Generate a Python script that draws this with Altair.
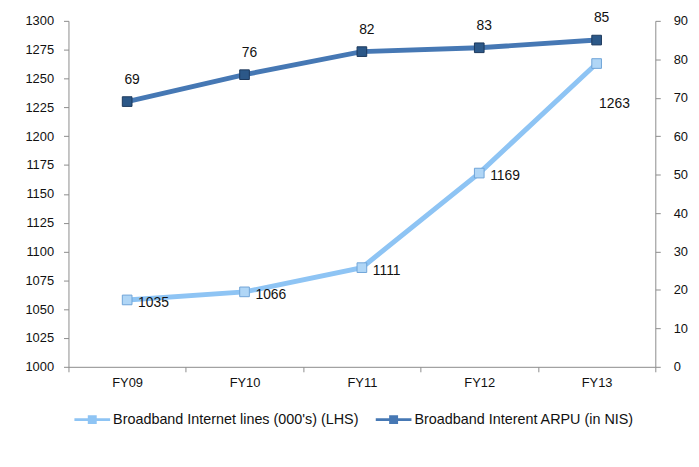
import altair as alt
import pandas as pd

years = ["FY09", "FY10", "FY11", "FY12", "FY13"]
# positions of the light-blue markers as drawn in the picture (LHS scale)
lines_plotted = [1058, 1065, 1086, 1168, 1263]
# data labels printed next to those markers
lines_labels = ["1035", "1066", "1111", "1169", "1263"]
arpu_nis = [69, 76, 82, 83, 85]
left_ticks = [1000, 1025, 1050, 1075, 1100, 1125, 1150, 1175, 1200, 1225, 1250, 1275, 1300]
right_ticks = [0, 10, 20, 30, 40, 50, 60, 70, 80, 90]
series_names = ["Broadband Internet lines (000's) (LHS)", "Broadband Interent ARPU (in NIS)"]
line_colors = ["#8EC4F4", "#4678B4"]
marker_fill = ["#B0D6F6", "#2C5888"]
marker_stroke = ["#6FA4D8", "#1C395C"]

FONT = "Liberation Sans"
AXIS_GREY = "#8C8C8C"
TXT = "#111111"

df_l = pd.DataFrame({"year": years, "value": lines_plotted, "label": lines_labels,
                     "series": series_names[0]})
df_r = pd.DataFrame({"year": years, "value": arpu_nis, "series": series_names[1]})

x_enc = alt.X(
    "year:N", sort=years,
    scale=alt.Scale(paddingInner=0, paddingOuter=0),
    axis=alt.Axis(title=None, labelAngle=0, tickBand="extent", domainColor=AXIS_GREY,
                  tickColor=AXIS_GREY, tickSize=5, labelPadding=5, labelFontSize=13,
                  labelColor=TXT, labelFont=FONT, grid=False),
)

y_left = alt.Y(
    "value:Q",
    scale=alt.Scale(domain=[1000, 1300], nice=False, zero=False),
    axis=alt.Axis(orient="left", values=left_ticks, format="d", title=None, grid=False,
                  domainColor=AXIS_GREY, tickColor=AXIS_GREY, tickSize=5, labelPadding=10,
                  labelFontSize=13, labelColor=TXT, labelFont=FONT),
)
y_right = alt.Y(
    "value:Q",
    scale=alt.Scale(domain=[0, 90], nice=False, zero=True),
    axis=alt.Axis(orient="right", values=right_ticks, format="d", title=None, grid=False,
                  domainColor=AXIS_GREY, tickColor=AXIS_GREY, tickSize=5, labelPadding=13,
                  labelFontSize=13, labelColor=TXT, labelFont=FONT),
)

legend_symbol = ("M-1,-0.08 L1,-0.08 L1,0.08 L-1,0.08 Z "
                 "M-0.25,-0.25 L0.25,-0.25 L0.25,0.25 L-0.25,0.25 Z")

color_enc = alt.Color(
    "series:N",
    scale=alt.Scale(domain=series_names, range=line_colors),
    legend=alt.Legend(title=None, orient="none", direction="horizontal", legendX=6, legendY=384,
                      symbolType=legend_symbol, symbolSize=1296, symbolStrokeWidth=0,
                      labelFontSize=14.5, labelFont=FONT, labelColor=TXT,
                      labelOffset=3, columnPadding=17, labelLimit=400),
)

base_l = alt.Chart(df_l).encode(x=x_enc, y=y_left)
light = alt.layer(
    base_l.mark_line(color=line_colors[0], strokeWidth=5),
    base_l.mark_point(shape="square", filled=True, size=95, fill=marker_fill[0],
                      stroke=marker_stroke[0], strokeWidth=1, opacity=1).encode(color=color_enc),
    base_l.mark_text(align="left", baseline="middle", dx=11, dy=3, fontSize=14, font=FONT,
                     color=TXT).encode(text="label:N").transform_filter("datum.year != 'FY13'"),
    base_l.mark_text(align="center", baseline="middle", dx=18, dy=41, fontSize=14, font=FONT,
                     color=TXT).encode(text="label:N").transform_filter("datum.year == 'FY13'"),
)

base_r = alt.Chart(df_r).encode(x=x_enc, y=y_right)
dark = alt.layer(
    base_r.mark_line(color=line_colors[1], strokeWidth=5),
    base_r.mark_point(shape="square", filled=True, size=95, fill=marker_fill[1],
                      stroke=marker_stroke[1], strokeWidth=1, opacity=1).encode(color=color_enc),
    base_r.mark_text(align="center", baseline="middle", dx=5, dy=-22, fontSize=14, font=FONT,
                     color=TXT).encode(text="value:Q"),
)

chart = (
    alt.layer(light, dark)
    .resolve_scale(y="independent")
    .properties(width=592, height=349, autosize=alt.AutoSizeParams(type="none"),
                padding={"left": 61, "top": 11, "right": 36, "bottom": 90}, background="white")
    .configure_view(stroke=None)
)

chart.save("out.html", embed_options={"renderer": "svg", "actions": False})
